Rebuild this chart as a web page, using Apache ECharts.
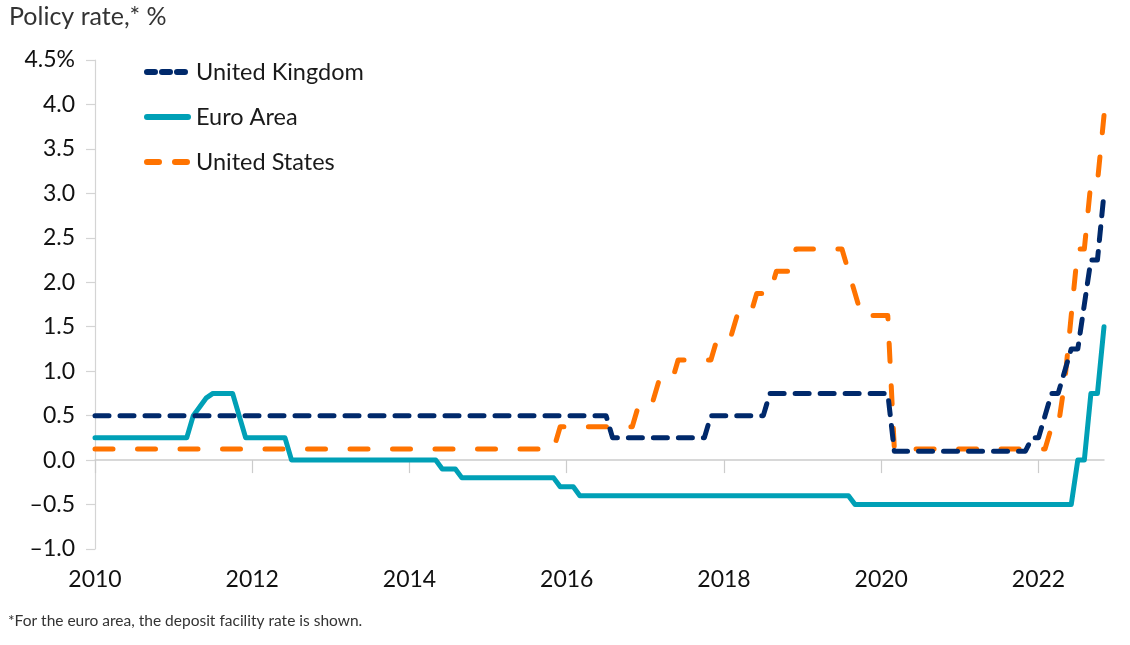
<!DOCTYPE html>
<html>
<head>
<meta charset="utf-8">
<script src="https://cdn.jsdelivr.net/npm/echarts@6/dist/echarts.min.js"></script>
<style>
html,body{margin:0;padding:0;background:#fff;}
#chart{width:1130px;height:645px;}
</style>
</head>
<body>
<div id="chart"></div>
<script>
// Monthly policy rates, Jan 2010 .. Nov 2022 (one row per year)
const startYear = 2010;
const seriesNames = ['United Kingdom', 'Euro Area', 'United States'];
const xTickValues = [2010, 2012, 2014, 2016, 2018, 2020, 2022];
const yTickValues = [-1.0, -0.5, 0.0, 0.5, 1.0, 1.5, 2.0, 2.5, 3.0, 3.5, 4.0, 4.5];

const ukRate = [
  0.5,0.5,0.5,0.5,0.5,0.5,0.5,0.5,0.5,0.5,0.5,0.5,          // 2010
  0.5,0.5,0.5,0.5,0.5,0.5,0.5,0.5,0.5,0.5,0.5,0.5,          // 2011
  0.5,0.5,0.5,0.5,0.5,0.5,0.5,0.5,0.5,0.5,0.5,0.5,          // 2012
  0.5,0.5,0.5,0.5,0.5,0.5,0.5,0.5,0.5,0.5,0.5,0.5,          // 2013
  0.5,0.5,0.5,0.5,0.5,0.5,0.5,0.5,0.5,0.5,0.5,0.5,          // 2014
  0.5,0.5,0.5,0.5,0.5,0.5,0.5,0.5,0.5,0.5,0.5,0.5,          // 2015
  0.5,0.5,0.5,0.5,0.5,0.5,0.5,0.25,0.25,0.25,0.25,0.25,     // 2016
  0.25,0.25,0.25,0.25,0.25,0.25,0.25,0.25,0.25,0.25,0.5,0.5,// 2017
  0.5,0.5,0.5,0.5,0.5,0.5,0.5,0.75,0.75,0.75,0.75,0.75,     // 2018
  0.75,0.75,0.75,0.75,0.75,0.75,0.75,0.75,0.75,0.75,0.75,0.75, // 2019
  0.75,0.75,0.1,0.1,0.1,0.1,0.1,0.1,0.1,0.1,0.1,0.1,        // 2020
  0.1,0.1,0.1,0.1,0.1,0.1,0.1,0.1,0.1,0.1,0.1,0.25,         // 2021
  0.25,0.5,0.75,0.75,1.0,1.25,1.25,1.75,2.25,2.25,3.0       // 2022
];

const euroRate = [
  0.25,0.25,0.25,0.25,0.25,0.25,0.25,0.25,0.25,0.25,0.25,0.25, // 2010
  0.25,0.25,0.25,0.5,0.6,0.7,0.75,0.75,0.75,0.75,0.5,0.25,     // 2011
  0.25,0.25,0.25,0.25,0.25,0.25,0,0,0,0,0,0,                   // 2012
  0,0,0,0,0,0,0,0,0,0,0,0,                                     // 2013
  0,0,0,0,0,-0.1,-0.1,-0.1,-0.2,-0.2,-0.2,-0.2,                // 2014
  -0.2,-0.2,-0.2,-0.2,-0.2,-0.2,-0.2,-0.2,-0.2,-0.2,-0.2,-0.3, // 2015
  -0.3,-0.3,-0.4,-0.4,-0.4,-0.4,-0.4,-0.4,-0.4,-0.4,-0.4,-0.4, // 2016
  -0.4,-0.4,-0.4,-0.4,-0.4,-0.4,-0.4,-0.4,-0.4,-0.4,-0.4,-0.4, // 2017
  -0.4,-0.4,-0.4,-0.4,-0.4,-0.4,-0.4,-0.4,-0.4,-0.4,-0.4,-0.4, // 2018
  -0.4,-0.4,-0.4,-0.4,-0.4,-0.4,-0.4,-0.4,-0.5,-0.5,-0.5,-0.5, // 2019
  -0.5,-0.5,-0.5,-0.5,-0.5,-0.5,-0.5,-0.5,-0.5,-0.5,-0.5,-0.5, // 2020
  -0.5,-0.5,-0.5,-0.5,-0.5,-0.5,-0.5,-0.5,-0.5,-0.5,-0.5,-0.5, // 2021
  -0.5,-0.5,-0.5,-0.5,-0.5,-0.5,0,0,0.75,0.75,1.5              // 2022
];

const usRate = [
  0.125,0.125,0.125,0.125,0.125,0.125,0.125,0.125,0.125,0.125,0.125,0.125, // 2010
  0.125,0.125,0.125,0.125,0.125,0.125,0.125,0.125,0.125,0.125,0.125,0.125, // 2011
  0.125,0.125,0.125,0.125,0.125,0.125,0.125,0.125,0.125,0.125,0.125,0.125, // 2012
  0.125,0.125,0.125,0.125,0.125,0.125,0.125,0.125,0.125,0.125,0.125,0.125, // 2013
  0.125,0.125,0.125,0.125,0.125,0.125,0.125,0.125,0.125,0.125,0.125,0.125, // 2014
  0.125,0.125,0.125,0.125,0.125,0.125,0.125,0.125,0.125,0.125,0.125,0.375, // 2015
  0.375,0.375,0.375,0.375,0.375,0.375,0.375,0.375,0.375,0.375,0.375,0.625, // 2016
  0.625,0.625,0.875,0.875,0.875,1.125,1.125,1.125,1.125,1.125,1.125,1.375, // 2017
  1.375,1.375,1.625,1.625,1.625,1.875,1.875,1.875,2.125,2.125,2.125,2.375, // 2018
  2.375,2.375,2.375,2.375,2.375,2.375,2.375,2.125,1.875,1.625,1.625,1.625, // 2019
  1.625,1.625,0.125,0.125,0.125,0.125,0.125,0.125,0.125,0.125,0.125,0.125, // 2020
  0.125,0.125,0.125,0.125,0.125,0.125,0.125,0.125,0.125,0.125,0.125,0.125, // 2021
  0.125,0.125,0.375,0.375,0.875,1.625,2.375,2.375,3.125,3.125,3.875        // 2022
];

const toPoints = arr => arr.map((v, i) => [startYear + i / 12, v]);
const lastX = startYear + (ukRate.length - 1) / 12;

const FONT = 'Lato, "Noto Sans", sans-serif';
const colors = { uk: '#00296b', euro: '#00a0b6', us: '#ff7300' };
const ukDash = [14, 11];
const usDash = [18, 24.5];

const chart = echarts.init(document.getElementById('chart'), null, { renderer: 'canvas' });

chart.setOption({
  animation: false,
  textStyle: { fontFamily: FONT },
  title: [
    { text: 'Policy rate,* %', left: 9, top: 4, padding: 0,
      textStyle: { fontFamily: FONT, fontSize: 25, fontWeight: 'normal', color: '#333' } },
    { text: '*For the euro area, the deposit facility rate is shown.', left: 8, top: 613, padding: 0,
      textStyle: { fontFamily: FONT, fontSize: 15.5, fontWeight: 'normal', color: '#333' } }
  ],
  grid: { left: 95, right: 26, top: 60, bottom: 96, containLabel: false },
  legend: {
    orient: 'vertical', left: 144, top: 60, padding: 0,
    itemWidth: 41, itemHeight: 14, itemGap: 21,
    itemStyle: { opacity: 0 },
    textStyle: { fontFamily: FONT, fontSize: 23.5, color: '#1a1a1a', lineHeight: 24, padding: [0, 0, 0, 3] },
    data: [
      { name: seriesNames[0], itemStyle: { opacity: 0 },
        lineStyle: { color: colors.uk, width: 6, type: [8, 7], dashOffset: 0, cap: 'round' } },
      { name: seriesNames[1], itemStyle: { opacity: 0 },
        lineStyle: { color: colors.euro, width: 6, type: 'solid', cap: 'round' } },
      { name: seriesNames[2], itemStyle: { opacity: 0 },
        lineStyle: { color: colors.us, width: 6, type: [12, 16], dashOffset: 0, cap: 'round' } }
    ]
  },
  xAxis: [
    {
      type: 'value', min: startYear, max: lastX,
      axisLine: { show: false, onZero: false },
      axisTick: { show: false },
      splitLine: { show: false },
      axisLabel: {
        customValues: xTickValues,
        formatter: v => String(Math.round(v)),
        fontFamily: FONT, fontSize: 23, color: '#111', margin: 19
      }
    },
    {
      type: 'value', min: startYear, max: lastX,
      axisLine: { show: true, onZero: true, lineStyle: { color: '#cccccc', width: 1.5 } },
      axisTick: { show: true, inside: true, length: 13, customValues: xTickValues,
                  lineStyle: { color: '#cccccc', width: 1.2 } },
      axisLabel: { show: false },
      splitLine: { show: false }
    }
  ],
  yAxis: {
    type: 'value', min: -1, max: 4.5, interval: 0.5,
    axisLine: { show: true, lineStyle: { color: '#d4d4d4', width: 1.2 } },
    axisTick: { show: true, length: 9, lineStyle: { color: '#d4d4d4', width: 1.2 } },
    splitLine: { show: false },
    axisLabel: {
      fontFamily: FONT, fontSize: 23, color: '#111', margin: 20,
      formatter: v => {
        const s = Math.abs(v).toFixed(1);
        if (Math.abs(v - 4.5) < 1e-9) return s + '%';
        return (v < 0 ? '\u2013' : '') + s;
      }
    }
  },
  series: [
    {
      name: seriesNames[2], type: 'line', data: toPoints(usRate), symbol: 'none', showSymbol: false,
      lineStyle: { color: colors.us, width: 5, type: usDash, dashOffset: 0, cap: 'round', join: 'round' },
      itemStyle: { color: colors.us }, z: 2
    },
    {
      name: seriesNames[1], type: 'line', data: toPoints(euroRate), symbol: 'none', showSymbol: false,
      lineStyle: { color: colors.euro, width: 5, type: 'solid', cap: 'round', join: 'round' },
      itemStyle: { color: colors.euro }, z: 3
    },
    {
      name: seriesNames[0], type: 'line', data: toPoints(ukRate), symbol: 'none', showSymbol: false,
      lineStyle: { color: colors.uk, width: 5, type: ukDash, cap: 'round', join: 'round' },
      itemStyle: { color: colors.uk }, z: 4
    }
  ]
});
</script>
</body>
</html>
